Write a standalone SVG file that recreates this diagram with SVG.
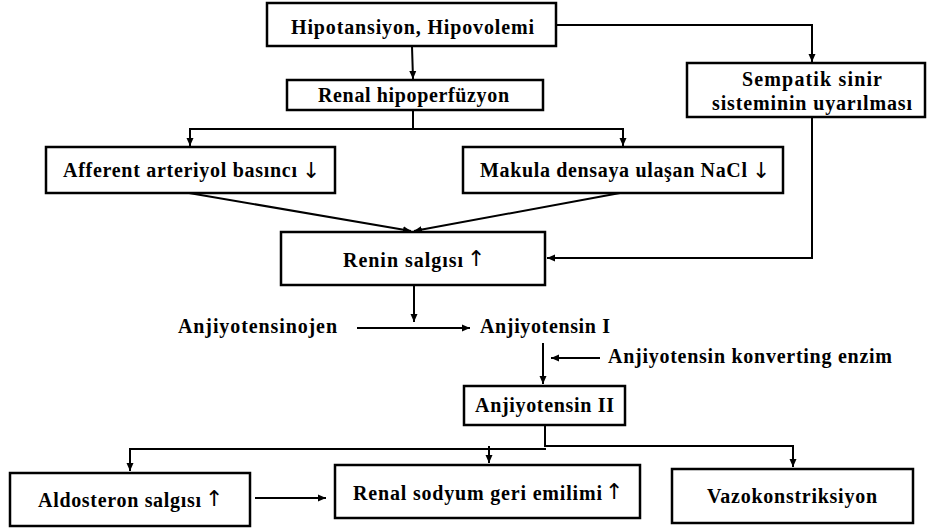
<svg xmlns="http://www.w3.org/2000/svg" width="928" height="528" viewBox="0 0 928 528">
<defs>
<marker id="ah" markerUnits="userSpaceOnUse" markerWidth="9" markerHeight="8" refX="8" refY="4" orient="auto">
<path d="M0,0.5 L8,4 L0,7.5 z" fill="#000"/>
</marker>
<style>
.box{fill:#fff;stroke:#000;stroke-width:2.5}
.t{font-family:"Liberation Serif","Times New Roman",serif;font-weight:bold;font-size:20px;fill:#000;text-anchor:start}
.ar{font-family:"DejaVu Sans","Noto Sans",sans-serif;font-weight:normal;font-size:22px;fill:#000}
.c{fill:none;stroke:#000;stroke-width:2}
.a{fill:none;stroke:#000;stroke-width:2;marker-end:url(#ah)}
</style>
</defs>
<rect width="928" height="528" fill="#fff"/>
<g id="connectors">
<path class="a" d="M412,46 L413,79"/>
<path class="a" d="M556,25 H812 V62"/>
<path class="c" d="M413,110 V129 M189,129 H624"/>
<path class="a" d="M190,129 V146"/>
<path class="a" d="M623,129 V146"/>
<path class="a" d="M189,193 L411,231"/>
<path class="a" d="M620,193 L414,231"/>
<path class="a" d="M812,117 V258 H547"/>
<path class="a" d="M414,285 V322"/>
<path class="a" d="M357,328 H470"/>
<path class="a" d="M543,343 V384"/>
<path class="a" d="M600,358 H551"/>
<path class="a" d="M545,425 V446 H793 V467"/>
<path class="a" d="M546,449 H130 V471"/>
<path class="a" d="M489,446 V463"/>
<path class="a" d="M255,498 H326"/>
</g>
<g id="hipotansiyon">
<rect class="box" x="267" y="3" width="289" height="43"/>
<text class="t" x="291" y="34" textLength="243" lengthAdjust="spacing">Hipotansiyon, Hipovolemi</text>
</g>
<g id="renal-hipoperfuzyon">
<rect class="box" x="287" y="80" width="256" height="30"/>
<text class="t" x="318" y="102" textLength="191" lengthAdjust="spacing">Renal hipoperfüzyon</text>
</g>
<g id="sempatik">
<rect class="box" x="687" y="63" width="238" height="54"/>
<text class="t" x="742" y="86" textLength="140" lengthAdjust="spacing">Sempatik sinir</text>
<text class="t" x="712" y="110" textLength="200" lengthAdjust="spacing">sisteminin uyarılması</text>
</g>
<g id="afferent">
<rect class="box" x="46" y="147" width="289" height="46"/>
<text class="t" x="63" y="177" textLength="234" lengthAdjust="spacing">Afferent arteriyol basıncı</text>
<text class="ar" x="302" y="178">↓</text>
</g>
<g id="makula">
<rect class="box" x="463" y="147" width="320" height="46"/>
<text class="t" x="480" y="177" textLength="267" lengthAdjust="spacing">Makula densaya ulaşan NaCl</text>
<text class="ar" x="752" y="178">↓</text>
</g>
<g id="renin">
<rect class="box" x="281" y="232" width="264" height="53"/>
<text class="t" x="343" y="267" textLength="120" lengthAdjust="spacing">Renin salgısı</text>
<text class="ar" x="467" y="266">↑</text>
</g>
<g id="anjiyotensinojen">
<text class="t" x="178" y="333" textLength="159" lengthAdjust="spacing">Anjiyotensinojen</text>
</g>
<g id="anjiyotensin-1">
<text class="t" x="480" y="333" textLength="130" lengthAdjust="spacing">Anjiyotensin I</text>
</g>
<g id="ace">
<text class="t" x="608" y="363" textLength="284" lengthAdjust="spacing">Anjiyotensin konverting enzim</text>
</g>
<g id="anjiyotensin-2">
<rect class="box" x="464" y="386" width="161" height="39"/>
<text class="t" x="475" y="412" textLength="139" lengthAdjust="spacing">Anjiyotensin II</text>
</g>
<g id="aldosteron">
<rect class="box" x="10" y="473" width="240" height="53"/>
<text class="t" x="38" y="507" textLength="163" lengthAdjust="spacing">Aldosteron salgısı</text>
<text class="ar" x="205" y="506">↑</text>
</g>
<g id="renal-sodyum">
<rect class="box" x="335" y="465" width="305" height="53"/>
<text class="t" x="353" y="500" textLength="249" lengthAdjust="spacing">Renal sodyum geri emilimi</text>
<text class="ar" x="605" y="499">↑</text>
</g>
<g id="vazokonstriksiyon">
<rect class="box" x="672" y="469" width="241" height="54"/>
<text class="t" x="707" y="503" textLength="170" lengthAdjust="spacing">Vazokonstriksiyon</text>
</g>
</svg>
